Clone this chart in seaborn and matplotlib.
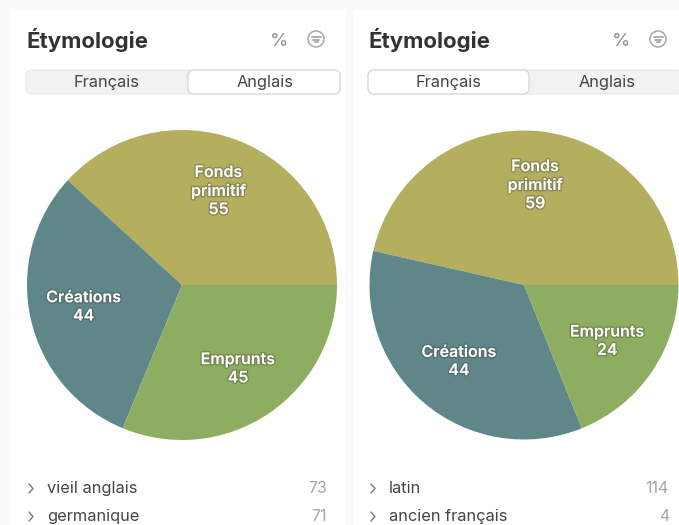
import matplotlib
matplotlib.use("Agg")
import matplotlib.pyplot as plt
import matplotlib.patheffects as pe
from matplotlib.patches import FancyBboxPatch, Rectangle, Circle
import seaborn as sns

sns.set_theme(style="white")
plt.rcParams['font.family'] = ['Inter', 'DejaVu Sans']

categories = ["Fonds\nprimitif", "Créations", "Emprunts"]
anglais_values = [55, 44, 45]
francais_values = [59, 44, 24]
title = "Étymologie"
tabs = ["Français", "Anglais"]
anglais_rows = [("vieil anglais", 73), ("germanique", 71)]
francais_rows = [("latin", 114), ("ancien français", 4)]
palette = sns.color_palette(["#B4AF5E", "#5F8789", "#8DAE60"])

W, H = 679, 525
fig = plt.figure(figsize=(W / 100, H / 100), dpi=100, facecolor="#FAFAFA")
bg = fig.add_axes([0, 0, 1, 1], zorder=0)
bg.set_xlim(0, W)
bg.set_ylim(H, 0)
bg.axis("off")


def panel(x0, active, rows):
    """x0: panel offset in pixels."""
    bg.add_patch(Rectangle((x0 + 11, 11), 334, H, fc="white", ec="none"))
    bg.text(x0 + 27, 40, title, fontsize=16, fontweight="bold", color="#333333",
            ha="left", va="center")
    bg.text(x0 + 279, 42, "%", fontsize=13.5, color="#8F8F8F", ha="center", va="center")
    bg.add_patch(Circle((x0 + 316, 39), 8, fc="white", ec="#A8A8A8", lw=1.1))
    for w, y in [(9, 36.5), (6, 39.5), (3, 42)]:
        bg.plot([x0 + 316 - w / 2, x0 + 316 + w / 2], [y, y], color="#AEAEAE", lw=1.4)
    # segmented control
    bg.add_patch(FancyBboxPatch((x0 + 26, 70), 314, 24, boxstyle="round,pad=0,rounding_size=6",
                                fc="#F2F2F2", ec="#E8E8E8", lw=0.8))
    ax0 = x0 + 26 if active == 0 else x0 + 188
    bg.add_patch(FancyBboxPatch((ax0, 70), 161 if active == 0 else 152, 24,
                                boxstyle="round,pad=0,rounding_size=6",
                                fc="white", ec="#D6D6D6", lw=0.9))
    for i, t in enumerate(tabs):
        bg.text(x0 + (106 if i == 0 else 265), 82, t, fontsize=11.8, color="#444444",
                ha="center", va="center")
    for (name, val), y in zip(rows, (488.5, 516.5)):
        bg.plot([x0 + 29, x0 + 33, x0 + 29], [y - 4.5, y, y + 4.5], color="#777777", lw=1.0)
        bg.text(x0 + 47, y, name, fontsize=11.8, color="#444444", ha="left", va="center")
        bg.text(x0 + 327, y, str(val), fontsize=11.5, color="#A6A6A6", ha="right", va="center")


panel(0, 1, anglais_rows)
panel(342, 0, francais_rows)


def draw_pie(cx, cy, r, values):
    pad = 1.0
    ax = fig.add_axes([(cx - r) / W, 1 - (cy + r) / H, 2 * r / W, 2 * r / H], zorder=2)
    ax.patch.set_alpha(0)
    labels = [f"{c}\n{v}" for c, v in zip(categories, values)]
    _, texts = ax.pie(values, colors=palette, labels=labels, startangle=0, counterclock=True,
                      radius=1, labeldistance=0.65, frame=False,
                      wedgeprops=dict(linewidth=0),
                      textprops=dict(color="white", fontsize=11.5, fontweight="semibold",
                                     horizontalalignment="center", verticalalignment="center",
                                     linespacing=1.27))
    for t in texts:
        t.set_path_effects([pe.withStroke(linewidth=2.0, foreground=(0.25, 0.25, 0.2, 0.35))])
    ax.set_xlim(-pad, pad)
    ax.set_ylim(-pad, pad)


draw_pie(182, 285, 155, anglais_values)
draw_pie(524, 285, 154.5, francais_values)

fig.savefig("out.png", dpi=100, facecolor=fig.get_facecolor())
